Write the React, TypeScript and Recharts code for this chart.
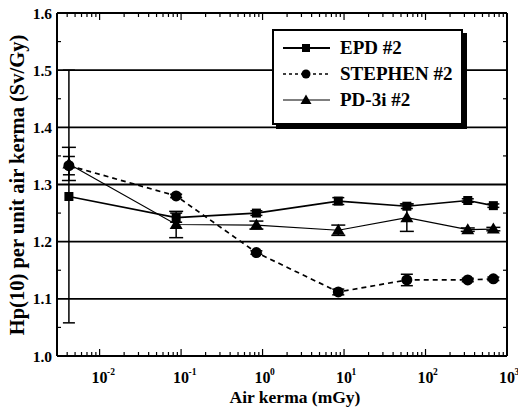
import React from 'react';
import { LineChart, Line, XAxis, YAxis, ErrorBar, Legend, ReferenceLine } from 'recharts';

const FONT = '"Liberation Serif", "Times New Roman", serif';

// air kerma (mGy) for every measurement
const doses = [0.0042, 0.087, 0.84, 8.5, 59, 330, 680];

const epd = [1.279, 1.242, 1.25, 1.271, 1.262, 1.272, 1.263];
const epdErr = [0.221, 0.008, 0.004, 0.006, 0.004, 0.003, 0.003];

const stephen = [1.333, 1.28, 1.181, 1.112, 1.133, 1.133, 1.135];
const stephenErr = [0.016, 0.003, 0.003, 0.005, 0.01, 0.003, 0.003];

const pd3i = [1.336, 1.23, 1.229, 1.22, 1.242, 1.221, 1.222];
const pd3iErr = [0.029, 0.023, 0.007, 0.009, 0.024, 0.003, 0.003];

const seriesNames = ['EPD #2', 'STEPHEN #2', 'PD-3i #2'];

const xMajorTicks = [0.01, 0.1, 1, 10, 100, 1000];
const xExponents = ['-2', '-1', '0', '1', '2', '3'];
// log minor ticks 2..9 in each decade
const xMinorTicks = [0.001, 0.01, 0.1, 1, 10, 100]
  .flatMap((d) => [2, 3, 4, 5, 6, 7, 8, 9].map((m) => +(d * m).toPrecision(3)))
  .filter((v) => v >= 0.003 && v <= 1000);
const xAllTicks = [...xMinorTicks, ...xMajorTicks].sort((a, b) => a - b);
const yTicks = [1.0, 1.1, 1.2, 1.3, 1.4, 1.5, 1.6];
const yMinorTicks = [1.05, 1.15, 1.25, 1.35, 1.45, 1.55];
const yAllTicks = [...yTicks, ...yMinorTicks].sort((a, b) => a - b);

// plot frame edges (px) used only for the inward tick marks
const PLOT_TOP = 13;
const PLOT_BOTTOM = 356;
const PLOT_LEFT = 57;
const PLOT_RIGHT = 507;

const data = doses.map((x, i) => ({
  x,
  epd: epd[i],
  epdErr: epdErr[i],
  stephen: stephen[i],
  stephenErr: stephenErr[i],
  pd3i: pd3i[i],
  pd3iErr: pd3iErr[i],
}));

const SquareDot = (p: any) => (
  <rect key={`sq-${p.index}`} x={p.cx - 4.5} y={p.cy - 4.5} width={9} height={9} fill="#000" />
);
const CircleDot = (p: any) => <circle key={`ci-${p.index}`} cx={p.cx} cy={p.cy} r={5.5} fill="#000" />;
const TriangleDot = (p: any) => (
  <polygon
    key={`tr-${p.index}`}
    points={`${p.cx},${p.cy - 6.5} ${p.cx - 6.5},${p.cy + 4.5} ${p.cx + 6.5},${p.cy + 4.5}`}
    fill="#000"
  />
);

// x tick: inward marks on bottom and top edges, "10^n" label on decades
const XTick = (props: any) => {
  const { x, payload } = props;
  const i = xMajorTicks.indexOf(payload.value);
  const len = i >= 0 ? 7 : 4;
  return (
    <g>
      <line x1={x} x2={x} y1={PLOT_BOTTOM} y2={PLOT_BOTTOM - len} stroke="#000" strokeWidth={1.2} />
      <line x1={x} x2={x} y1={PLOT_TOP} y2={PLOT_TOP + len} stroke="#000" strokeWidth={1.2} />
      {i >= 0 && (
        <>
          <text x={x} y={383} textAnchor="middle" fontFamily={FONT} fontWeight="bold" fontSize={16} fill="#000">
            10
          </text>
          <text x={x + 7.5} y={375} fontFamily={FONT} fontWeight="bold" fontSize={9.5} fill="#000">
            {xExponents[i]}
          </text>
        </>
      )}
    </g>
  );
};

// y tick: label on tenths, small inward marks on both sides for halves
const YTick = (props: any) => {
  const { y, payload } = props;
  const major = yTicks.some((t) => Math.abs(t - payload.value) < 1e-6);
  if (major) {
    return (
      <text x={52} y={y} dy={5.5} textAnchor="end" fontFamily={FONT} fontWeight="bold" fontSize={15.5} fill="#000">
        {payload.value.toFixed(1)}
      </text>
    );
  }
  return (
    <g>
      <line x1={PLOT_LEFT} x2={PLOT_LEFT + 4} y1={y} y2={y} stroke="#000" strokeWidth={1.2} />
      <line x1={PLOT_RIGHT} x2={PLOT_RIGHT - 4} y1={y} y2={y} stroke="#000" strokeWidth={1.2} />
    </g>
  );
};

const legendRows = [
  { name: seriesNames[0], dash: undefined, width: 2, marker: 'square' },
  { name: seriesNames[1], dash: '3 3', width: 1.6, marker: 'circle' },
  { name: seriesNames[2], dash: undefined, width: 1.2, marker: 'triangle' },
];

const LegendBox = () => (
  <div
    style={{
      width: 191,
      height: 96,
      boxSizing: 'border-box',
      border: '2px solid #000',
      boxShadow: '4px 4px 0 #000',
      background: '#fff',
      paddingTop: 4,
      fontFamily: FONT,
      fontWeight: 'bold',
      fontSize: 19,
      color: '#000',
    }}
  >
    {legendRows.map((r) => (
      <div key={r.name} style={{ display: 'flex', alignItems: 'center', height: 26 }}>
        <svg width={66} height={16} style={{ flex: 'none' }}>
          <line x1={9} y1={8} x2={56} y2={8} stroke="#000" strokeWidth={r.width} strokeDasharray={r.dash} />
          {r.marker === 'square' && <rect x={28} y={4} width={8} height={8} fill="#000" />}
          {r.marker === 'circle' && <circle cx={32} cy={8} r={4.5} fill="#000" />}
          {r.marker === 'triangle' && <polygon points="32,2.5 26.5,12 37.5,12" fill="#000" />}
        </svg>
        <span style={{ whiteSpace: 'nowrap', lineHeight: '16px' }}>{r.name}</span>
      </div>
    ))}
  </div>
);

const axisLine = { stroke: '#000', strokeWidth: 2 };

export default function App() {
  return (
    <div style={{ position: 'absolute', left: 0, top: 0, width: 518, height: 409, background: '#fff' }}>
      <LineChart width={518} height={409} data={data} margin={{ top: 13, right: 11, bottom: 0, left: 0 }}>
        <XAxis
          xAxisId="main"
          dataKey="x"
          type="number"
          scale="log"
          domain={[0.003, 1000]}
          allowDataOverflow
          ticks={xAllTicks}
          interval={0}
          height={53}
          axisLine={axisLine}
          tickLine={false}
          tick={<XTick />}
          label={{
            content: () => (
              <text x={295} y={403} textAnchor="middle" fontFamily={FONT} fontWeight="bold" fontSize={17.5} fill="#000">
                Air kerma (mGy)
              </text>
            ),
          }}
        />

        <YAxis
          yAxisId="main"
          type="number"
          domain={[1.0, 1.6]}
          allowDataOverflow
          ticks={yAllTicks}
          interval={0}
          width={57}
          axisLine={axisLine}
          tickLine={false}
          tick={<YTick />}
          label={{
            content: () => (
              <text
                x={17}
                y={185}
                transform="rotate(-90 17 185)"
                textAnchor="middle"
                dominantBaseline="central"
                fontFamily={FONT}
                fontWeight="bold"
                fontSize={20.5}
                fill="#000"
              >
                Hp(10) per unit air kerma (Sv/Gy)
              </text>
            ),
          }}
        />

        {/* horizontal grid and frame */}
        {yTicks.map((t) => (
          <ReferenceLine key={t} xAxisId="main" yAxisId="main" y={t} stroke="#000" strokeWidth={1.8} />
        ))}
        <ReferenceLine xAxisId="main" yAxisId="main" x={1000} stroke="#000" strokeWidth={2} />

        <Legend
          layout="vertical"
          align="center"
          verticalAlign="middle"
          content={<LegendBox />}
          wrapperStyle={{ left: 272, top: 29, width: 'auto', height: 'auto' }}
        />

        <Line
          xAxisId="main"
          yAxisId="main"
          name={seriesNames[0]}
          dataKey="epd"
          stroke="#000"
          strokeWidth={1.7}
          dot={SquareDot}
          activeDot={false}
          isAnimationActive={false}
        >
          <ErrorBar dataKey="epdErr" width={6} stroke="#000" strokeWidth={1.5} isAnimationActive={false} />
        </Line>
        <Line
          xAxisId="main"
          yAxisId="main"
          name={seriesNames[1]}
          dataKey="stephen"
          stroke="#000"
          strokeWidth={1.7}
          strokeDasharray="5 4"
          dot={CircleDot}
          activeDot={false}
          isAnimationActive={false}
        >
          <ErrorBar dataKey="stephenErr" width={6} stroke="#000" strokeWidth={1.5} isAnimationActive={false} />
        </Line>
        <Line
          xAxisId="main"
          yAxisId="main"
          name={seriesNames[2]}
          dataKey="pd3i"
          stroke="#000"
          strokeWidth={1.2}
          dot={TriangleDot}
          activeDot={false}
          isAnimationActive={false}
        >
          <ErrorBar dataKey="pd3iErr" width={7} stroke="#000" strokeWidth={1.5} isAnimationActive={false} />
        </Line>
      </LineChart>
    </div>
  );
}
